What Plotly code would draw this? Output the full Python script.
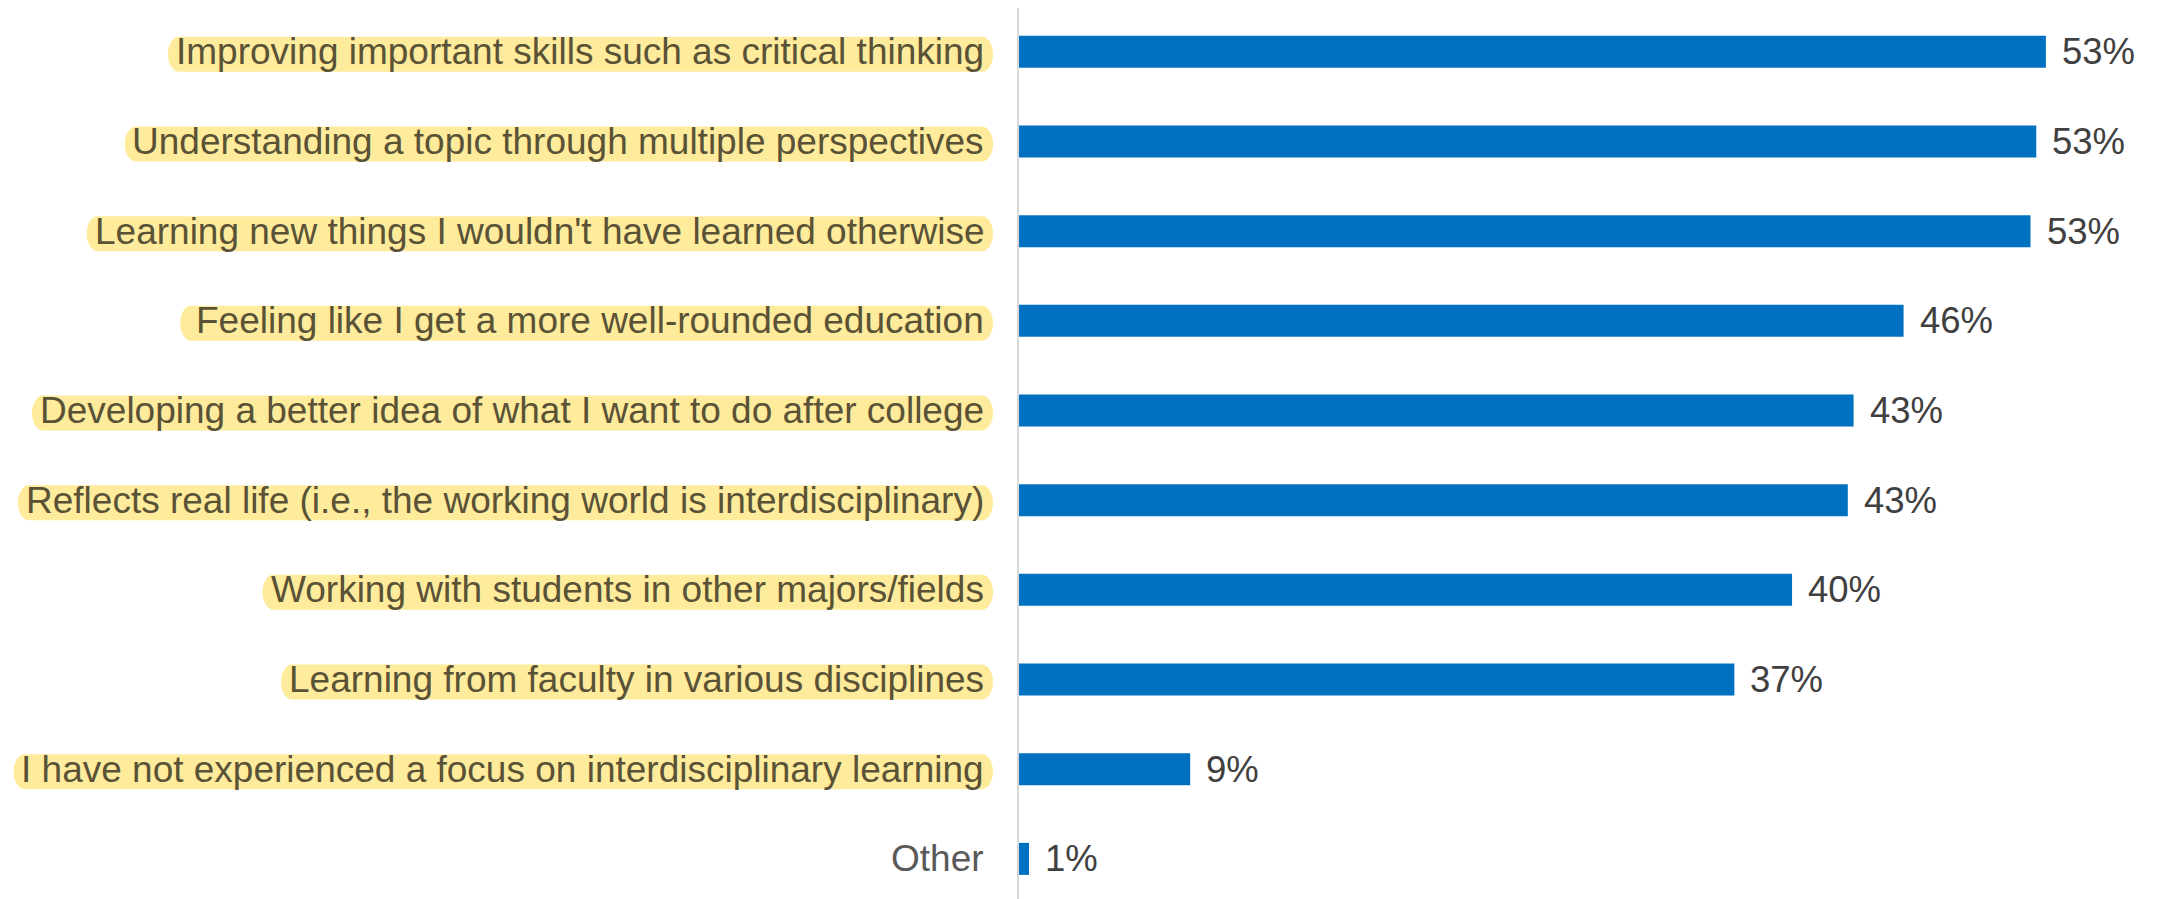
import plotly.graph_objects as go

categories = [
    "Improving important skills such as critical thinking",
    "Understanding a topic through multiple perspectives",
    "Learning new things I wouldn't have learned otherwise",
    "Feeling like I get a more well-rounded education",
    "Developing a better idea of what I want to do after college",
    "Reflects real life (i.e., the working world is interdisciplinary)",
    "Working with students in other majors/fields",
    "Learning from faculty in various disciplines",
    "I have not experienced a focus on interdisciplinary learning",
    "Other",
]
values = [53.4, 52.9, 52.6, 46.0, 43.4, 43.1, 40.2, 37.2, 8.9, 0.52]
value_labels = ["53%", "53%", "53%", "46%", "43%", "43%", "40%", "37%", "9%", "1%"]
highlighted = [True, True, True, True, True, True, True, True, True, False]

W, H = 2159, 899
PAGE_OFF = 8          # default body margin of the html page
ML, MT = 1019 - PAGE_OFF, 0
plot_w = W - ML
plot_h = H - MT
px_per_unit = 19.23
cat_px = 89.67

LABEL_FONT = 37
VALUE_FONT = 36.5
FONT = "Liberation Sans, Arial, sans-serif"

# Arial advance widths (1/1000 em) for highlight sizing
AW = {' ': 278, "'": 191, '(': 333, ')': 333, '.': 278, ',': 278, '/': 278,
      'a': 556, 'b': 556, 'c': 500, 'd': 556, 'e': 556, 'f': 278, 'g': 556, 'h': 556,
      'i': 222, 'j': 222, 'k': 500, 'l': 222, 'm': 833, 'n': 556, 'o': 556, 'p': 556,
      'q': 556, 'r': 333, 's': 500, 't': 278, 'u': 556, 'v': 500, 'w': 722, 'x': 500,
      'y': 500, 'z': 500, 'D': 722, 'F': 611, 'I': 278, 'L': 556, 'O': 778, 'R': 722,
      'U': 722, 'W': 944}


def text_w(s, size):
    return sum(AW.get(ch, 556) for ch in s) / 1000.0 * size


fig = go.Figure()
fig.add_trace(go.Bar(
    y=categories, x=values, orientation="h",
    marker=dict(color="#0070C0", line=dict(width=0)),
    hoverinfo="skip",
))

annotations = []
shapes = []
GAP = 35
for cat, hl in zip(categories, highlighted):
    annotations.append(dict(
        x=0, xref="paper", y=cat, yref="y", xanchor="right", yanchor="middle",
        xshift=-GAP, text=cat, showarrow=False, borderpad=0, borderwidth=0,
        font=dict(family=FONT, size=LABEL_FONT, color="#595236" if hl else "#595959"),
    ))
    if hl:
        tw = text_w(cat, LABEL_FONT)
        x1 = -GAP + 9
        x0 = -GAP - tw - 8
        rx, ry = 11.0, 17.5
        cy = -2.5
        top, bot = cy + ry, cy - ry
        k = 0.5523
        path = (
            f"M{x0+rx},{top} L{x1-rx},{top} "
            f"C{x1-rx+k*rx},{top} {x1},{cy+k*ry} {x1},{cy} "
            f"C{x1},{cy-k*ry} {x1-rx+k*rx},{bot} {x1-rx},{bot} "
            f"L{x0+rx},{bot} "
            f"C{x0+rx-k*rx},{bot} {x0},{cy-k*ry} {x0},{cy} "
            f"C{x0},{cy+k*ry} {x0+rx-k*rx},{top} {x0+rx},{top} Z"
        )
        shapes.append(dict(
            type="path", xref="paper", yref="y", xsizemode="pixel", ysizemode="pixel",
            xanchor=0, yanchor=cat, path=path, fillcolor="#FFEB9C",
            line=dict(width=0), layer="below",
        ))

for cat, v, lab in zip(categories, values, value_labels):
    annotations.append(dict(
        x=v, xref="x", y=cat, yref="y", xanchor="left", yanchor="middle",
        xshift=16, text=lab, showarrow=False, borderpad=0, borderwidth=0,
        font=dict(family=FONT, size=VALUE_FONT, color="#404040"),
    ))

span = plot_h / cat_px
top_edge = -0.5 + 1.0 / cat_px
fig.update_layout(
    width=W, height=H,
    margin=dict(l=ML, r=0, t=MT, b=0, pad=0),
    plot_bgcolor="white", paper_bgcolor="white",
    showlegend=False,
    bargap=1 - 32 / cat_px,
    xaxis=dict(range=[0, plot_w / px_per_unit], showgrid=False, zeroline=False,
               showticklabels=False, ticks="", showline=False, fixedrange=True),
    yaxis=dict(type="category", categoryorder="array", categoryarray=categories,
               range=[top_edge + span, top_edge], showgrid=False, zeroline=False,
               showticklabels=False, ticks="", showline=True, linecolor="#D9D9D9",
               linewidth=2, fixedrange=True),
    annotations=annotations,
    shapes=shapes,
)

fig.write_html("out.html")
